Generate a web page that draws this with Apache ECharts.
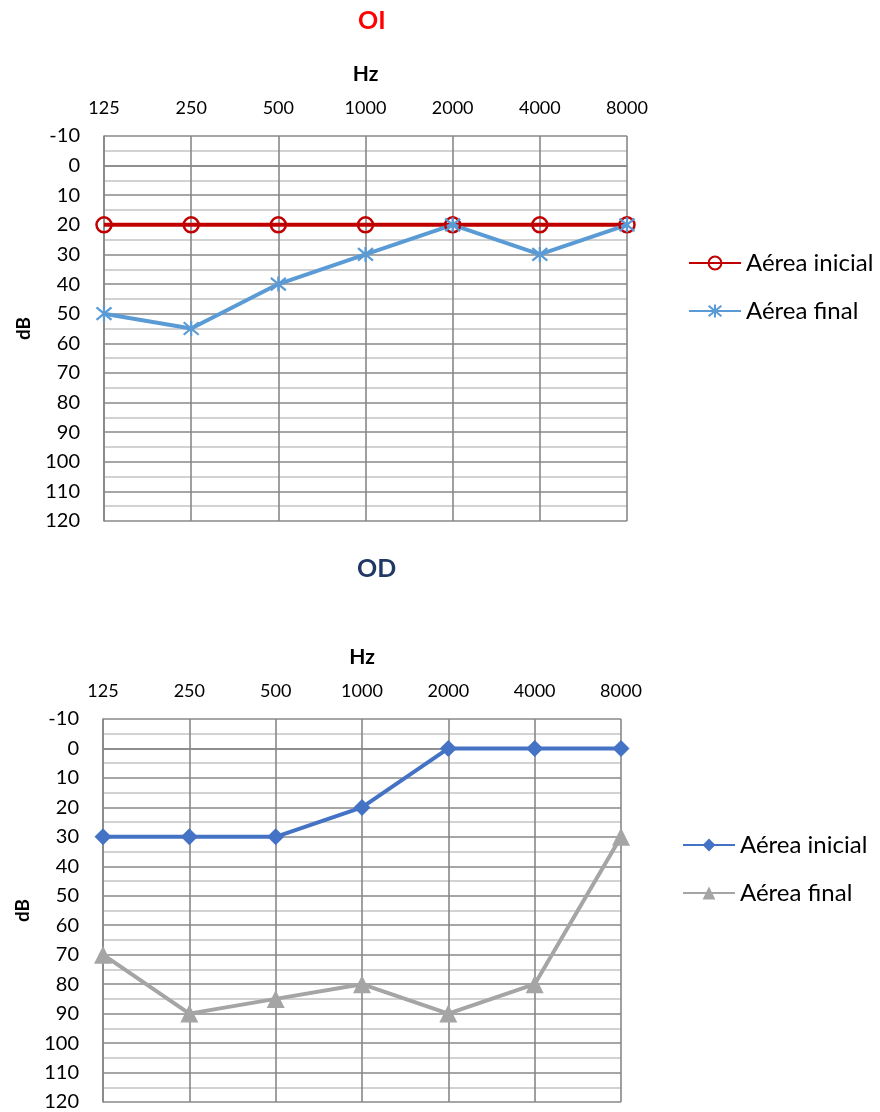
<!DOCTYPE html>
<html><head><meta charset="utf-8">
<script src="https://cdn.jsdelivr.net/npm/echarts@6/dist/echarts.min.js"></script>
<style>html,body{margin:0;padding:0;background:#fff}#c1,#c2{width:880px;height:556px}</style>
</head><body>
<div id="c1"></div><div id="c2"></div>
<script>
const categories = ['125','250','500','1000','2000','4000','8000'];
const oiInicial = [20,20,20,20,20,20,20];
const oiFinal = [50,55,40,30,20,30,20];
const odInicial = [30,30,30,20,0,0,0];
const odFinal = [70,90,85,80,90,80,30];
const seriesNames = ['Aérea inicial','Aérea final'];

const FONT = 'Lato, "Open Sans", sans-serif';
const starPath = 'path://M0,0L10,10M10,0L0,10M5,-1L5,11';

function build(title, titleColor, titleLeft, titleTop, grid, legendPos, s1, s2) {
  return {
    animation: false,
    textStyle: {fontFamily: FONT},
    title: {text: title, left: titleLeft, top: titleTop, padding: 0,
      textStyle: {color: titleColor, fontSize: 25, fontWeight: 'bold', fontFamily: FONT}},
    legend: {orient: 'vertical', left: legendPos.left, top: legendPos.top,
      itemWidth: 52, itemHeight: 16, itemGap: 24,
      textStyle: {fontSize: 24, color: '#000', fontFamily: FONT},
      data: seriesNames},
    grid: grid,
    xAxis: {type: 'category', data: categories, position: 'top', boundaryGap: false,
      name: 'Hz', nameLocation: 'middle', nameGap: 51,
      nameTextStyle: {fontWeight: 'bold', fontSize: 21, color: '#000'},
      axisLine: {show: true, lineStyle: {color: '#888', width: 1.6}},
      axisTick: {show: false},
      axisLabel: {fontSize: 18, color: '#000', margin: 19},
      splitLine: {show: true, lineStyle: {color: '#888', width: 1.6}}},
    yAxis: {type: 'value', inverse: true, min: -10, max: 120, interval: 10,
      name: 'dB', nameLocation: 'middle', nameGap: 71, nameRotate: 90,
      nameTextStyle: {fontWeight: 'bold', fontSize: 19, color: '#000'},
      axisLine: {show: true, lineStyle: {color: '#888', width: 1.6}},
      axisTick: {show: false},
      axisLabel: {fontSize: 20, color: '#000', margin: 24},
      splitLine: {show: true, lineStyle: {color: '#888', width: 1.5}},
      minorTick: {show: false, splitNumber: 2},
      minorSplitLine: {show: true, lineStyle: {color: '#c4c4c4', width: 1.5}}},
    series: [s1, s2]
  };
}

const c1 = echarts.init(document.getElementById('c1'));
c1.setOption(build('OI', '#FF0000', 358, 8,
  {left: 104, right: 253, top: 136, height: 385},
  {left: 683, top: 246},
  {name: seriesNames[0], type: 'line', data: oiInicial, symbol: 'circle', symbolSize: 15,
    lineStyle: {color: '#C00000', width: 4},
    itemStyle: {color: 'rgba(0,0,0,0)', borderColor: '#C00000', borderWidth: 2.5}},
  {name: seriesNames[1], type: 'line', data: oiFinal, symbol: starPath, symbolSize: 15,
    lineStyle: {color: '#5B9BD5', width: 4},
    itemStyle: {color: '#5B9BD5', borderColor: '#5B9BD5', borderWidth: 2.2}}
));

const c2 = echarts.init(document.getElementById('c2'));
c2.setOption(build('OD', '#203864', 357, 0,
  {left: 103, right: 259, top: 163, height: 385},
  {left: 677, top: 272},
  {name: seriesNames[0], type: 'line', data: odInicial, symbol: 'diamond', symbolSize: 17,
    lineStyle: {color: '#4472C4', width: 4},
    itemStyle: {color: '#4472C4'}},
  {name: seriesNames[1], type: 'line', data: odFinal, symbol: 'triangle', symbolSize: 18,
    lineStyle: {color: '#A5A5A5', width: 4},
    itemStyle: {color: '#A5A5A5'}}
));
</script>
</body></html>
